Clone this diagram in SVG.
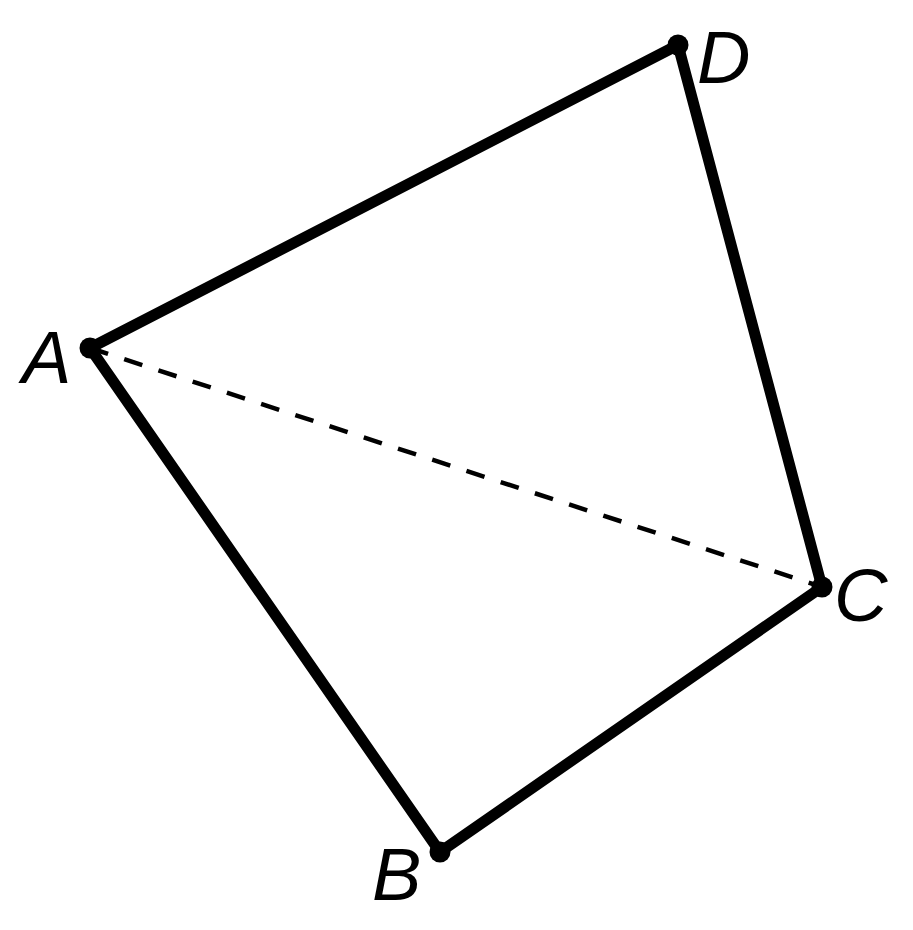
<svg xmlns="http://www.w3.org/2000/svg" width="913" height="930" viewBox="0 0 913 930">
<style>
.edge{stroke:#000;stroke-width:11;fill:none;stroke-linecap:round;stroke-linejoin:round}
.dash{stroke:#000;stroke-width:4.5;fill:none;stroke-dasharray:19 17}
.pt{fill:#000}
.lbl{font-family:"Liberation Sans",Arial,sans-serif;font-style:italic;font-size:74px;fill:#000}
</style>
<rect width="913" height="930" fill="#fff"/>
<g id="connectors">
<line class="dash" x1="90" y1="348" x2="822" y2="587"/>
<line class="edge" x1="90" y1="348" x2="678" y2="45"/>
<line class="edge" x1="678" y1="45" x2="822" y2="587"/>
<line class="edge" x1="822" y1="587" x2="440" y2="852"/>
<line class="edge" x1="440" y1="852" x2="90" y2="348"/>
</g>
<g id="A"><circle class="pt" cx="90" cy="348" r="10.5"/><text class="lbl" x="22" y="383">A</text></g>
<g id="D"><circle class="pt" cx="678" cy="45" r="10.5"/><text class="lbl" x="697" y="83">D</text></g>
<g id="C"><circle class="pt" cx="822" cy="587" r="10.5"/><text class="lbl" x="834" y="621">C</text></g>
<g id="B"><circle class="pt" cx="440" cy="852" r="10.5"/><text class="lbl" x="372" y="900">B</text></g>
</svg>
